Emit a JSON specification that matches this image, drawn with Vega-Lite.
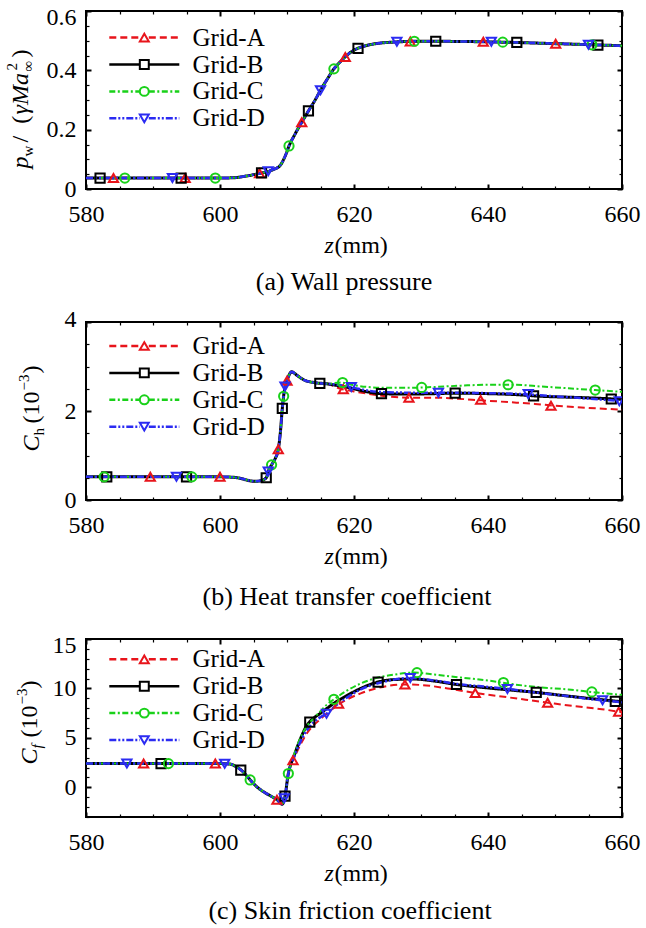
{
  "$schema": "https://vega.github.io/schema/vega-lite/v6.json",
  "background": "white",
  "padding": {"left": 3, "top": 4, "right": 0, "bottom": 0},
  "config": {
    "font": "Liberation Serif",
    "view": {"stroke": "black", "strokeWidth": 2},
    "axis": {"grid": false, "domain": false, "labelFont": "Liberation Serif", "labelFontSize": 24, "labelColor": "black", "tickColor": "black", "titleFont": "Liberation Serif", "titleFontSize": 24, "titleFontWeight": "normal", "titleColor": "black", "titleAlign": "left", "titleBaseline": "alphabetic", "labelFlush": false, "labelOverlap": false, "labelBound": false},
    "legend": {"labelFont": "Liberation Serif", "labelFontSize": 25, "labelColor": "black"},
    "title": {"font": "Liberation Serif", "fontSize": 26, "fontWeight": "normal", "color": "black"}
  },
  "datasets": {
    "lines": [
      {"p":"a","g":"Grid-A","z":580,"v":0.037},{"p":"a","g":"Grid-A","z":600,"v":0.037},{"p":"a","g":"Grid-A","z":602,"v":0.038},{"p":"a","g":"Grid-A","z":604,"v":0.044},{"p":"a","g":"Grid-A","z":606,"v":0.053},{"p":"a","g":"Grid-A","z":607,"v":0.058},{"p":"a","g":"Grid-A","z":608,"v":0.066},{"p":"a","g":"Grid-A","z":609,"v":0.08},{"p":"a","g":"Grid-A","z":609.8,"v":0.115},{"p":"a","g":"Grid-A","z":610.3,"v":0.145},{"p":"a","g":"Grid-A","z":611.2,"v":0.185},{"p":"a","g":"Grid-A","z":612.2,"v":0.225},{"p":"a","g":"Grid-A","z":613.2,"v":0.263},{"p":"a","g":"Grid-A","z":614.2,"v":0.3},{"p":"a","g":"Grid-A","z":615,"v":0.333},{"p":"a","g":"Grid-A","z":616,"v":0.37},{"p":"a","g":"Grid-A","z":617,"v":0.405},{"p":"a","g":"Grid-A","z":618,"v":0.43},{"p":"a","g":"Grid-A","z":619,"v":0.452},{"p":"a","g":"Grid-A","z":620,"v":0.468},{"p":"a","g":"Grid-A","z":621,"v":0.478},{"p":"a","g":"Grid-A","z":622.5,"v":0.487},{"p":"a","g":"Grid-A","z":625,"v":0.494},{"p":"a","g":"Grid-A","z":630,"v":0.498},{"p":"a","g":"Grid-A","z":640,"v":0.496},{"p":"a","g":"Grid-A","z":650,"v":0.49},{"p":"a","g":"Grid-A","z":660,"v":0.483},
      {"p":"a","g":"Grid-B","z":580,"v":0.037},{"p":"a","g":"Grid-B","z":600,"v":0.037},{"p":"a","g":"Grid-B","z":602,"v":0.038},{"p":"a","g":"Grid-B","z":604,"v":0.044},{"p":"a","g":"Grid-B","z":606,"v":0.053},{"p":"a","g":"Grid-B","z":607,"v":0.058},{"p":"a","g":"Grid-B","z":608,"v":0.066},{"p":"a","g":"Grid-B","z":609,"v":0.08},{"p":"a","g":"Grid-B","z":609.8,"v":0.115},{"p":"a","g":"Grid-B","z":610.3,"v":0.145},{"p":"a","g":"Grid-B","z":611.2,"v":0.185},{"p":"a","g":"Grid-B","z":612.2,"v":0.225},{"p":"a","g":"Grid-B","z":613.2,"v":0.263},{"p":"a","g":"Grid-B","z":614.2,"v":0.3},{"p":"a","g":"Grid-B","z":615,"v":0.333},{"p":"a","g":"Grid-B","z":616,"v":0.37},{"p":"a","g":"Grid-B","z":617,"v":0.405},{"p":"a","g":"Grid-B","z":618,"v":0.43},{"p":"a","g":"Grid-B","z":619,"v":0.452},{"p":"a","g":"Grid-B","z":620,"v":0.468},{"p":"a","g":"Grid-B","z":621,"v":0.478},{"p":"a","g":"Grid-B","z":622.5,"v":0.487},{"p":"a","g":"Grid-B","z":625,"v":0.494},{"p":"a","g":"Grid-B","z":630,"v":0.498},{"p":"a","g":"Grid-B","z":640,"v":0.496},{"p":"a","g":"Grid-B","z":650,"v":0.49},{"p":"a","g":"Grid-B","z":660,"v":0.483},
      {"p":"a","g":"Grid-C","z":580,"v":0.037},{"p":"a","g":"Grid-C","z":600,"v":0.037},{"p":"a","g":"Grid-C","z":602,"v":0.038},{"p":"a","g":"Grid-C","z":604,"v":0.044},{"p":"a","g":"Grid-C","z":606,"v":0.053},{"p":"a","g":"Grid-C","z":607,"v":0.058},{"p":"a","g":"Grid-C","z":608,"v":0.066},{"p":"a","g":"Grid-C","z":609,"v":0.08},{"p":"a","g":"Grid-C","z":609.8,"v":0.115},{"p":"a","g":"Grid-C","z":610.3,"v":0.145},{"p":"a","g":"Grid-C","z":611.2,"v":0.185},{"p":"a","g":"Grid-C","z":612.2,"v":0.225},{"p":"a","g":"Grid-C","z":613.2,"v":0.263},{"p":"a","g":"Grid-C","z":614.2,"v":0.3},{"p":"a","g":"Grid-C","z":615,"v":0.333},{"p":"a","g":"Grid-C","z":616,"v":0.37},{"p":"a","g":"Grid-C","z":617,"v":0.405},{"p":"a","g":"Grid-C","z":618,"v":0.43},{"p":"a","g":"Grid-C","z":619,"v":0.452},{"p":"a","g":"Grid-C","z":620,"v":0.468},{"p":"a","g":"Grid-C","z":621,"v":0.478},{"p":"a","g":"Grid-C","z":622.5,"v":0.487},{"p":"a","g":"Grid-C","z":625,"v":0.494},{"p":"a","g":"Grid-C","z":630,"v":0.498},{"p":"a","g":"Grid-C","z":640,"v":0.496},{"p":"a","g":"Grid-C","z":650,"v":0.49},{"p":"a","g":"Grid-C","z":660,"v":0.483},
      {"p":"a","g":"Grid-D","z":580,"v":0.037},{"p":"a","g":"Grid-D","z":600,"v":0.037},{"p":"a","g":"Grid-D","z":602,"v":0.038},{"p":"a","g":"Grid-D","z":604,"v":0.044},{"p":"a","g":"Grid-D","z":606,"v":0.053},{"p":"a","g":"Grid-D","z":607,"v":0.058},{"p":"a","g":"Grid-D","z":608,"v":0.066},{"p":"a","g":"Grid-D","z":609,"v":0.08},{"p":"a","g":"Grid-D","z":609.8,"v":0.115},{"p":"a","g":"Grid-D","z":610.3,"v":0.145},{"p":"a","g":"Grid-D","z":611.2,"v":0.185},{"p":"a","g":"Grid-D","z":612.2,"v":0.225},{"p":"a","g":"Grid-D","z":613.2,"v":0.263},{"p":"a","g":"Grid-D","z":614.2,"v":0.3},{"p":"a","g":"Grid-D","z":615,"v":0.333},{"p":"a","g":"Grid-D","z":616,"v":0.37},{"p":"a","g":"Grid-D","z":617,"v":0.405},{"p":"a","g":"Grid-D","z":618,"v":0.43},{"p":"a","g":"Grid-D","z":619,"v":0.452},{"p":"a","g":"Grid-D","z":620,"v":0.468},{"p":"a","g":"Grid-D","z":621,"v":0.478},{"p":"a","g":"Grid-D","z":622.5,"v":0.487},{"p":"a","g":"Grid-D","z":625,"v":0.494},{"p":"a","g":"Grid-D","z":630,"v":0.498},{"p":"a","g":"Grid-D","z":640,"v":0.496},{"p":"a","g":"Grid-D","z":650,"v":0.49},{"p":"a","g":"Grid-D","z":660,"v":0.483},

      {"p":"b","g":"Grid-A","z":580,"v":0.52},{"p":"b","g":"Grid-A","z":600,"v":0.52},{"p":"b","g":"Grid-A","z":602,"v":0.51},{"p":"b","g":"Grid-A","z":603.5,"v":0.47},{"p":"b","g":"Grid-A","z":604.5,"v":0.43},{"p":"b","g":"Grid-A","z":605.4,"v":0.42},{"p":"b","g":"Grid-A","z":606.2,"v":0.44},{"p":"b","g":"Grid-A","z":606.9,"v":0.5},{"p":"b","g":"Grid-A","z":607.2,"v":0.64},{"p":"b","g":"Grid-A","z":607.7,"v":0.79},{"p":"b","g":"Grid-A","z":608.2,"v":0.92},{"p":"b","g":"Grid-A","z":608.7,"v":1.14},{"p":"b","g":"Grid-A","z":609,"v":1.5},{"p":"b","g":"Grid-A","z":609.3,"v":2.06},{"p":"b","g":"Grid-A","z":609.6,"v":2.45},{"p":"b","g":"Grid-A","z":610,"v":2.68},{"p":"b","g":"Grid-A","z":610.7,"v":2.88},{"p":"b","g":"Grid-A","z":611.5,"v":2.8},{"p":"b","g":"Grid-A","z":612.5,"v":2.7},{"p":"b","g":"Grid-A","z":614,"v":2.64},{"p":"b","g":"Grid-A","z":616,"v":2.61},
      {"p":"b","g":"Grid-A","z":618,"v":2.5},{"p":"b","g":"Grid-A","z":620,"v":2.44},{"p":"b","g":"Grid-A","z":622,"v":2.39},{"p":"b","g":"Grid-A","z":625,"v":2.33},{"p":"b","g":"Grid-A","z":628,"v":2.3},{"p":"b","g":"Grid-A","z":632,"v":2.3},{"p":"b","g":"Grid-A","z":635,"v":2.28},{"p":"b","g":"Grid-A","z":639,"v":2.24},{"p":"b","g":"Grid-A","z":643,"v":2.2},{"p":"b","g":"Grid-A","z":647,"v":2.16},{"p":"b","g":"Grid-A","z":650,"v":2.12},{"p":"b","g":"Grid-A","z":655,"v":2.07},{"p":"b","g":"Grid-A","z":660,"v":2.03},
      {"p":"b","g":"Grid-B","z":580,"v":0.52},{"p":"b","g":"Grid-B","z":600,"v":0.52},{"p":"b","g":"Grid-B","z":602,"v":0.51},{"p":"b","g":"Grid-B","z":603.5,"v":0.47},{"p":"b","g":"Grid-B","z":604.5,"v":0.43},{"p":"b","g":"Grid-B","z":605.4,"v":0.42},{"p":"b","g":"Grid-B","z":606.2,"v":0.44},{"p":"b","g":"Grid-B","z":606.9,"v":0.5},{"p":"b","g":"Grid-B","z":607.2,"v":0.64},{"p":"b","g":"Grid-B","z":607.7,"v":0.79},{"p":"b","g":"Grid-B","z":608.2,"v":0.92},{"p":"b","g":"Grid-B","z":608.7,"v":1.14},{"p":"b","g":"Grid-B","z":609,"v":1.5},{"p":"b","g":"Grid-B","z":609.3,"v":2.06},{"p":"b","g":"Grid-B","z":609.6,"v":2.45},{"p":"b","g":"Grid-B","z":610,"v":2.68},{"p":"b","g":"Grid-B","z":610.7,"v":2.88},{"p":"b","g":"Grid-B","z":611.5,"v":2.8},{"p":"b","g":"Grid-B","z":612.5,"v":2.7},{"p":"b","g":"Grid-B","z":614,"v":2.64},{"p":"b","g":"Grid-B","z":616,"v":2.61},
      {"p":"b","g":"Grid-B","z":618,"v":2.56},{"p":"b","g":"Grid-B","z":620,"v":2.5},{"p":"b","g":"Grid-B","z":622,"v":2.43},{"p":"b","g":"Grid-B","z":624,"v":2.39},{"p":"b","g":"Grid-B","z":628,"v":2.38},{"p":"b","g":"Grid-B","z":632,"v":2.39},{"p":"b","g":"Grid-B","z":635,"v":2.4},{"p":"b","g":"Grid-B","z":640,"v":2.39},{"p":"b","g":"Grid-B","z":644,"v":2.37},{"p":"b","g":"Grid-B","z":648,"v":2.33},{"p":"b","g":"Grid-B","z":652,"v":2.31},{"p":"b","g":"Grid-B","z":656,"v":2.29},{"p":"b","g":"Grid-B","z":660,"v":2.26},
      {"p":"b","g":"Grid-C","z":580,"v":0.52},{"p":"b","g":"Grid-C","z":600,"v":0.52},{"p":"b","g":"Grid-C","z":602,"v":0.51},{"p":"b","g":"Grid-C","z":603.5,"v":0.47},{"p":"b","g":"Grid-C","z":604.5,"v":0.43},{"p":"b","g":"Grid-C","z":605.4,"v":0.42},{"p":"b","g":"Grid-C","z":606.2,"v":0.44},{"p":"b","g":"Grid-C","z":606.9,"v":0.5},{"p":"b","g":"Grid-C","z":607.2,"v":0.64},{"p":"b","g":"Grid-C","z":607.7,"v":0.79},{"p":"b","g":"Grid-C","z":608.2,"v":0.92},{"p":"b","g":"Grid-C","z":608.7,"v":1.14},{"p":"b","g":"Grid-C","z":609,"v":1.5},{"p":"b","g":"Grid-C","z":609.3,"v":2.06},{"p":"b","g":"Grid-C","z":609.6,"v":2.45},{"p":"b","g":"Grid-C","z":610,"v":2.68},{"p":"b","g":"Grid-C","z":610.7,"v":2.88},{"p":"b","g":"Grid-C","z":611.5,"v":2.8},{"p":"b","g":"Grid-C","z":612.5,"v":2.7},{"p":"b","g":"Grid-C","z":614,"v":2.64},{"p":"b","g":"Grid-C","z":616,"v":2.61},
      {"p":"b","g":"Grid-C","z":618,"v":2.64},{"p":"b","g":"Grid-C","z":620,"v":2.58},{"p":"b","g":"Grid-C","z":622,"v":2.54},{"p":"b","g":"Grid-C","z":625,"v":2.52},{"p":"b","g":"Grid-C","z":628,"v":2.52},{"p":"b","g":"Grid-C","z":632,"v":2.54},{"p":"b","g":"Grid-C","z":636,"v":2.57},{"p":"b","g":"Grid-C","z":640,"v":2.59},{"p":"b","g":"Grid-C","z":644,"v":2.59},{"p":"b","g":"Grid-C","z":648,"v":2.55},{"p":"b","g":"Grid-C","z":652,"v":2.51},{"p":"b","g":"Grid-C","z":656,"v":2.47},{"p":"b","g":"Grid-C","z":660,"v":2.43},
      {"p":"b","g":"Grid-D","z":580,"v":0.52},{"p":"b","g":"Grid-D","z":600,"v":0.52},{"p":"b","g":"Grid-D","z":602,"v":0.51},{"p":"b","g":"Grid-D","z":603.5,"v":0.47},{"p":"b","g":"Grid-D","z":604.5,"v":0.43},{"p":"b","g":"Grid-D","z":605.4,"v":0.42},{"p":"b","g":"Grid-D","z":606.2,"v":0.44},{"p":"b","g":"Grid-D","z":606.9,"v":0.5},{"p":"b","g":"Grid-D","z":607.2,"v":0.64},{"p":"b","g":"Grid-D","z":607.7,"v":0.79},{"p":"b","g":"Grid-D","z":608.2,"v":0.92},{"p":"b","g":"Grid-D","z":608.7,"v":1.14},{"p":"b","g":"Grid-D","z":609,"v":1.5},{"p":"b","g":"Grid-D","z":609.3,"v":2.06},{"p":"b","g":"Grid-D","z":609.6,"v":2.45},{"p":"b","g":"Grid-D","z":610,"v":2.68},{"p":"b","g":"Grid-D","z":610.7,"v":2.88},{"p":"b","g":"Grid-D","z":611.5,"v":2.8},{"p":"b","g":"Grid-D","z":612.5,"v":2.7},{"p":"b","g":"Grid-D","z":614,"v":2.64},{"p":"b","g":"Grid-D","z":616,"v":2.61},
      {"p":"b","g":"Grid-D","z":618,"v":2.58},{"p":"b","g":"Grid-D","z":620,"v":2.52},{"p":"b","g":"Grid-D","z":622,"v":2.46},{"p":"b","g":"Grid-D","z":625,"v":2.42},{"p":"b","g":"Grid-D","z":630,"v":2.41},{"p":"b","g":"Grid-D","z":635,"v":2.41},{"p":"b","g":"Grid-D","z":640,"v":2.4},{"p":"b","g":"Grid-D","z":645,"v":2.38},{"p":"b","g":"Grid-D","z":650,"v":2.33},{"p":"b","g":"Grid-D","z":655,"v":2.28},{"p":"b","g":"Grid-D","z":660,"v":2.22},

      {"p":"c","g":"Grid-A","z":580,"v":2.4},{"p":"c","g":"Grid-A","z":600,"v":2.4},{"p":"c","g":"Grid-A","z":601.5,"v":2.35},{"p":"c","g":"Grid-A","z":602.5,"v":2.05},{"p":"c","g":"Grid-A","z":603.2,"v":1.72},{"p":"c","g":"Grid-A","z":604,"v":1.15},{"p":"c","g":"Grid-A","z":604.7,"v":0.6},{"p":"c","g":"Grid-A","z":605.5,"v":0.05},{"p":"c","g":"Grid-A","z":606.5,"v":-0.45},{"p":"c","g":"Grid-A","z":607.5,"v":-0.85},{"p":"c","g":"Grid-A","z":608.5,"v":-1.25},{"p":"c","g":"Grid-A","z":609.3,"v":-1.7},{"p":"c","g":"Grid-A","z":609.7,"v":-0.9},{"p":"c","g":"Grid-A","z":610.2,"v":1.4},{"p":"c","g":"Grid-A","z":610.6,"v":2.4},
      {"p":"c","g":"Grid-A","z":611,"v":2.9},{"p":"c","g":"Grid-A","z":612,"v":4.3},{"p":"c","g":"Grid-A","z":613,"v":5.5},{"p":"c","g":"Grid-A","z":614,"v":6.3},{"p":"c","g":"Grid-A","z":615,"v":6.9},{"p":"c","g":"Grid-A","z":616,"v":7.5},{"p":"c","g":"Grid-A","z":617,"v":8.05},{"p":"c","g":"Grid-A","z":619,"v":8.9},{"p":"c","g":"Grid-A","z":621,"v":9.5},{"p":"c","g":"Grid-A","z":623,"v":9.95},{"p":"c","g":"Grid-A","z":625,"v":10.25},{"p":"c","g":"Grid-A","z":627.6,"v":10.4},{"p":"c","g":"Grid-A","z":630,"v":10.35},{"p":"c","g":"Grid-A","z":634,"v":10.0},{"p":"c","g":"Grid-A","z":638,"v":9.55},{"p":"c","g":"Grid-A","z":643,"v":9.1},{"p":"c","g":"Grid-A","z":649,"v":8.55},{"p":"c","g":"Grid-A","z":653,"v":8.2},{"p":"c","g":"Grid-A","z":657,"v":7.9},{"p":"c","g":"Grid-A","z":660,"v":7.6},
      {"p":"c","g":"Grid-B","z":580,"v":2.4},{"p":"c","g":"Grid-B","z":600,"v":2.4},{"p":"c","g":"Grid-B","z":601.5,"v":2.35},{"p":"c","g":"Grid-B","z":602.5,"v":2.05},{"p":"c","g":"Grid-B","z":603.2,"v":1.72},{"p":"c","g":"Grid-B","z":604,"v":1.15},{"p":"c","g":"Grid-B","z":604.7,"v":0.6},{"p":"c","g":"Grid-B","z":605.5,"v":0.05},{"p":"c","g":"Grid-B","z":606.5,"v":-0.45},{"p":"c","g":"Grid-B","z":607.5,"v":-0.85},{"p":"c","g":"Grid-B","z":608.5,"v":-1.25},{"p":"c","g":"Grid-B","z":609.3,"v":-1.7},{"p":"c","g":"Grid-B","z":609.7,"v":-0.9},{"p":"c","g":"Grid-B","z":610.2,"v":1.4},{"p":"c","g":"Grid-B","z":610.6,"v":2.4},
      {"p":"c","g":"Grid-B","z":611,"v":3.1},{"p":"c","g":"Grid-B","z":612,"v":4.9},{"p":"c","g":"Grid-B","z":613,"v":6.3},{"p":"c","g":"Grid-B","z":614,"v":7.0},{"p":"c","g":"Grid-B","z":615,"v":7.5},{"p":"c","g":"Grid-B","z":616,"v":8.0},{"p":"c","g":"Grid-B","z":617,"v":8.5},{"p":"c","g":"Grid-B","z":619,"v":9.3},{"p":"c","g":"Grid-B","z":621,"v":10.0},{"p":"c","g":"Grid-B","z":623.6,"v":10.65},{"p":"c","g":"Grid-B","z":626,"v":10.9},{"p":"c","g":"Grid-B","z":629,"v":10.95},{"p":"c","g":"Grid-B","z":632,"v":10.75},{"p":"c","g":"Grid-B","z":635.3,"v":10.4},{"p":"c","g":"Grid-B","z":640,"v":10.05},{"p":"c","g":"Grid-B","z":644,"v":9.8},{"p":"c","g":"Grid-B","z":647.2,"v":9.6},{"p":"c","g":"Grid-B","z":651,"v":9.3},{"p":"c","g":"Grid-B","z":655,"v":9.0},{"p":"c","g":"Grid-B","z":660,"v":8.65},
      {"p":"c","g":"Grid-C","z":580,"v":2.4},{"p":"c","g":"Grid-C","z":600,"v":2.4},{"p":"c","g":"Grid-C","z":601.5,"v":2.35},{"p":"c","g":"Grid-C","z":602.5,"v":2.05},{"p":"c","g":"Grid-C","z":603.2,"v":1.72},{"p":"c","g":"Grid-C","z":604,"v":1.15},{"p":"c","g":"Grid-C","z":604.7,"v":0.6},{"p":"c","g":"Grid-C","z":605.5,"v":0.05},{"p":"c","g":"Grid-C","z":606.5,"v":-0.45},{"p":"c","g":"Grid-C","z":607.5,"v":-0.85},{"p":"c","g":"Grid-C","z":608.5,"v":-1.25},{"p":"c","g":"Grid-C","z":609.3,"v":-1.7},{"p":"c","g":"Grid-C","z":609.7,"v":-0.9},{"p":"c","g":"Grid-C","z":610.2,"v":1.4},{"p":"c","g":"Grid-C","z":610.6,"v":2.4},
      {"p":"c","g":"Grid-C","z":611,"v":3.2},{"p":"c","g":"Grid-C","z":612,"v":5.0},{"p":"c","g":"Grid-C","z":613,"v":6.2},{"p":"c","g":"Grid-C","z":614,"v":7.0},{"p":"c","g":"Grid-C","z":615,"v":7.7},{"p":"c","g":"Grid-C","z":616,"v":8.4},{"p":"c","g":"Grid-C","z":617,"v":8.9},{"p":"c","g":"Grid-C","z":619,"v":9.8},{"p":"c","g":"Grid-C","z":621,"v":10.5},{"p":"c","g":"Grid-C","z":623,"v":11.0},{"p":"c","g":"Grid-C","z":626,"v":11.4},{"p":"c","g":"Grid-C","z":629,"v":11.6},{"p":"c","g":"Grid-C","z":632,"v":11.4},{"p":"c","g":"Grid-C","z":636,"v":11.1},{"p":"c","g":"Grid-C","z":640,"v":10.8},{"p":"c","g":"Grid-C","z":644,"v":10.4},{"p":"c","g":"Grid-C","z":648,"v":10.1},{"p":"c","g":"Grid-C","z":652,"v":9.9},{"p":"c","g":"Grid-C","z":656,"v":9.6},{"p":"c","g":"Grid-C","z":660,"v":9.35},
      {"p":"c","g":"Grid-D","z":580,"v":2.4},{"p":"c","g":"Grid-D","z":600,"v":2.4},{"p":"c","g":"Grid-D","z":601.5,"v":2.35},{"p":"c","g":"Grid-D","z":602.5,"v":2.05},{"p":"c","g":"Grid-D","z":603.2,"v":1.72},{"p":"c","g":"Grid-D","z":604,"v":1.15},{"p":"c","g":"Grid-D","z":604.7,"v":0.6},{"p":"c","g":"Grid-D","z":605.5,"v":0.05},{"p":"c","g":"Grid-D","z":606.5,"v":-0.45},{"p":"c","g":"Grid-D","z":607.5,"v":-0.85},{"p":"c","g":"Grid-D","z":608.5,"v":-1.25},{"p":"c","g":"Grid-D","z":609.3,"v":-1.7},{"p":"c","g":"Grid-D","z":609.7,"v":-0.9},{"p":"c","g":"Grid-D","z":610.2,"v":1.4},{"p":"c","g":"Grid-D","z":610.6,"v":2.4},
      {"p":"c","g":"Grid-D","z":611,"v":3.0},{"p":"c","g":"Grid-D","z":612,"v":4.6},{"p":"c","g":"Grid-D","z":613,"v":5.8},{"p":"c","g":"Grid-D","z":614,"v":6.6},{"p":"c","g":"Grid-D","z":615,"v":7.1},{"p":"c","g":"Grid-D","z":616,"v":7.5},{"p":"c","g":"Grid-D","z":617,"v":8.1},{"p":"c","g":"Grid-D","z":619,"v":9.1},{"p":"c","g":"Grid-D","z":621,"v":9.9},{"p":"c","g":"Grid-D","z":624,"v":10.6},{"p":"c","g":"Grid-D","z":626,"v":10.9},{"p":"c","g":"Grid-D","z":628.4,"v":11.05},{"p":"c","g":"Grid-D","z":632,"v":10.8},{"p":"c","g":"Grid-D","z":636,"v":10.4},{"p":"c","g":"Grid-D","z":640,"v":10.15},{"p":"c","g":"Grid-D","z":643,"v":9.95},{"p":"c","g":"Grid-D","z":647,"v":9.6},{"p":"c","g":"Grid-D","z":651,"v":9.3},{"p":"c","g":"Grid-D","z":655,"v":8.95},{"p":"c","g":"Grid-D","z":657.1,"v":8.8},{"p":"c","g":"Grid-D","z":660,"v":8.6}
    ],
    "markers": [
      {"p":"a","g":"Grid-A","z":584.1,"v":0.037},{"p":"a","g":"Grid-A","z":594.8,"v":0.037},{"p":"a","g":"Grid-A","z":605.9,"v":0.053},{"p":"a","g":"Grid-A","z":612.2,"v":0.225},{"p":"a","g":"Grid-A","z":618.7,"v":0.445},{"p":"a","g":"Grid-A","z":628.4,"v":0.497},{"p":"a","g":"Grid-A","z":639.3,"v":0.496},{"p":"a","g":"Grid-A","z":650.1,"v":0.49},
      {"p":"a","g":"Grid-B","z":582.1,"v":0.037},{"p":"a","g":"Grid-B","z":594.2,"v":0.037},{"p":"a","g":"Grid-B","z":606.2,"v":0.054},{"p":"a","g":"Grid-B","z":613.2,"v":0.263},{"p":"a","g":"Grid-B","z":620.6,"v":0.474},{"p":"a","g":"Grid-B","z":632.2,"v":0.498},{"p":"a","g":"Grid-B","z":644.3,"v":0.494},{"p":"a","g":"Grid-B","z":656.4,"v":0.485},
      {"p":"a","g":"Grid-C","z":585.8,"v":0.037},{"p":"a","g":"Grid-C","z":599.3,"v":0.037},{"p":"a","g":"Grid-C","z":610.3,"v":0.145},{"p":"a","g":"Grid-C","z":617,"v":0.405},{"p":"a","g":"Grid-C","z":629,"v":0.498},{"p":"a","g":"Grid-C","z":642.2,"v":0.495},{"p":"a","g":"Grid-C","z":655.5,"v":0.486},
      {"p":"a","g":"Grid-D","z":592.9,"v":0.037},{"p":"a","g":"Grid-D","z":607.2,"v":0.06},{"p":"a","g":"Grid-D","z":615,"v":0.333},{"p":"a","g":"Grid-D","z":626.4,"v":0.496},{"p":"a","g":"Grid-D","z":640.5,"v":0.496},{"p":"a","g":"Grid-D","z":655,"v":0.486},
      {"p":"b","g":"Grid-A","z":589.6,"v":0.52},{"p":"b","g":"Grid-A","z":600,"v":0.52},{"p":"b","g":"Grid-A","z":608.7,"v":1.14},{"p":"b","g":"Grid-A","z":610,"v":2.68},{"p":"b","g":"Grid-A","z":618.4,"v":2.49},{"p":"b","g":"Grid-A","z":628.2,"v":2.3},{"p":"b","g":"Grid-A","z":638.9,"v":2.25},{"p":"b","g":"Grid-A","z":649.4,"v":2.12},
      {"p":"b","g":"Grid-B","z":583.1,"v":0.52},{"p":"b","g":"Grid-B","z":595,"v":0.52},{"p":"b","g":"Grid-B","z":606.9,"v":0.5},{"p":"b","g":"Grid-B","z":609.3,"v":2.06},{"p":"b","g":"Grid-B","z":614.9,"v":2.62},{"p":"b","g":"Grid-B","z":624.1,"v":2.39},{"p":"b","g":"Grid-B","z":635.1,"v":2.4},{"p":"b","g":"Grid-B","z":646.8,"v":2.34},{"p":"b","g":"Grid-B","z":658.4,"v":2.27},
      {"p":"b","g":"Grid-C","z":582.7,"v":0.52},{"p":"b","g":"Grid-C","z":595.8,"v":0.52},{"p":"b","g":"Grid-C","z":607.7,"v":0.79},{"p":"b","g":"Grid-C","z":609.5,"v":2.33},{"p":"b","g":"Grid-C","z":618.3,"v":2.64},{"p":"b","g":"Grid-C","z":630.1,"v":2.53},{"p":"b","g":"Grid-C","z":643,"v":2.59},{"p":"b","g":"Grid-C","z":656,"v":2.47},
      {"p":"b","g":"Grid-D","z":593.5,"v":0.52},{"p":"b","g":"Grid-D","z":607.2,"v":0.64},{"p":"b","g":"Grid-D","z":609.7,"v":2.55},{"p":"b","g":"Grid-D","z":619.6,"v":2.54},{"p":"b","g":"Grid-D","z":632.6,"v":2.41},{"p":"b","g":"Grid-D","z":646,"v":2.38},{"p":"b","g":"Grid-D","z":659.6,"v":2.22},
      {"p":"c","g":"Grid-A","z":588.6,"v":2.4},{"p":"c","g":"Grid-A","z":599.3,"v":2.4},{"p":"c","g":"Grid-A","z":608.5,"v":-1.25},{"p":"c","g":"Grid-A","z":610.9,"v":2.75},{"p":"c","g":"Grid-A","z":617.7,"v":8.45},{"p":"c","g":"Grid-A","z":627.6,"v":10.4},{"p":"c","g":"Grid-A","z":638.1,"v":9.55},{"p":"c","g":"Grid-A","z":648.9,"v":8.55},{"p":"c","g":"Grid-A","z":659.5,"v":7.65},
      {"p":"c","g":"Grid-B","z":591.2,"v":2.4},{"p":"c","g":"Grid-B","z":603.1,"v":1.75},{"p":"c","g":"Grid-B","z":609.7,"v":-0.9},{"p":"c","g":"Grid-B","z":613.4,"v":6.6},{"p":"c","g":"Grid-B","z":623.6,"v":10.65},{"p":"c","g":"Grid-B","z":635.3,"v":10.4},{"p":"c","g":"Grid-B","z":647.2,"v":9.6},{"p":"c","g":"Grid-B","z":659,"v":8.7},
      {"p":"c","g":"Grid-C","z":592.3,"v":2.4},{"p":"c","g":"Grid-C","z":604.5,"v":0.75},{"p":"c","g":"Grid-C","z":610.2,"v":1.4},{"p":"c","g":"Grid-C","z":617,"v":8.9},{"p":"c","g":"Grid-C","z":629.4,"v":11.6},{"p":"c","g":"Grid-C","z":642.3,"v":10.6},{"p":"c","g":"Grid-C","z":655.5,"v":9.65},
      {"p":"c","g":"Grid-D","z":586.1,"v":2.4},{"p":"c","g":"Grid-D","z":600.7,"v":2.38},{"p":"c","g":"Grid-D","z":609.6,"v":-1.1},{"p":"c","g":"Grid-D","z":615.9,"v":7.45},{"p":"c","g":"Grid-D","z":628.4,"v":11.05},{"p":"c","g":"Grid-D","z":642.9,"v":9.95},{"p":"c","g":"Grid-D","z":657.1,"v":8.8}
    ]
  },
  "bounds": "flush",
  "spacing": 133,
  "resolve": {
    "scale": {"stroke": "independent", "strokeDash": "independent", "color": "independent", "shape": "independent"},
    "legend": {"stroke": "independent", "strokeDash": "independent", "color": "independent", "shape": "independent"}
  },
  "vconcat": [
    {
      "width": 536, "height": 178,
      "title": {"text": "(a) Wall pressure", "orient": "bottom", "frame": "group", "anchor": "middle", "offset": 33, "baseline": "alphabetic", "dx": -10},
      "resolve": {"axis": {"x": "independent", "y": "independent"}},
      "layer": [
        {
          "data": {"name": "lines"},
          "transform": [{"filter": "datum.p === 'a' && datum.g === 'Grid-A'"}],
          "mark": {"type": "line", "interpolate": "monotone", "strokeWidth": 2, "clip": true},
          "encoding": {
            "x": {"field": "z", "type": "quantitative", "scale": {"domain": [580, 660], "nice": false, "zero": false},
              "axis": {"orient": "bottom", "values": [580,585,590,595,600,605,610,615,620,625,630,635,640,645,650,655,660], "labelExpr": "datum.value % 20 === 0 ? format(datum.value, 'd') : ''", "tickSize": {"condition": {"test": "datum.value % 20 === 0", "value": -5}, "value": -3}, "tickWidth": {"condition": {"test": "datum.value % 20 === 0", "value": 2}, "value": 1.2}, "labelPadding": 18, "title": "z", "titleFontStyle": "italic", "titleX": 238, "titleY": 63, "titleAngle": 0}},
            "y": {"field": "v", "type": "quantitative", "scale": {"domain": [0, 0.6], "nice": false, "zero": false},
              "axis": {"orient": "left", "values": [0,0.05,0.1,0.15,0.2,0.25,0.3,0.35,0.4,0.45,0.5,0.55,0.6], "labelExpr": "abs(datum.value * 5 - round(datum.value * 5)) < 0.001 ? format(datum.value, '~g') : ''", "tickSize": {"condition": {"test": "abs(datum.value * 5 - round(datum.value * 5)) < 0.001", "value": -5}, "value": -3}, "tickWidth": {"condition": {"test": "abs(datum.value * 5 - round(datum.value * 5)) < 0.001", "value": 2}, "value": 1.2}, "labelPadding": 15, "labelOffset": {"condition": {"test": "datum.value > 0.59", "value": 6}, "value": 0}, "title": "p", "titleFontStyle": "italic", "titleX": -59, "titleY": 157, "titleAngle": 270}},
            "stroke": {"field": "g", "type": "nominal", "scale": {"domain": ["Grid-A", "Grid-B", "Grid-C", "Grid-D"], "range": ["#e8141b", "#000000", "#19d119", "#2b2bf2"]},
              "legend": {"orient": "none", "legendX": 0, "legendY": 14.1, "title": null, "padding": 0, "symbolType": "M-3.5,0H-0.45M0.45,0H3.5", "symbolSize": 400, "symbolStrokeWidth": 2.5, "symbolOffset": 45.8, "labelOffset": 35.7, "rowPadding": 0.9}},
            "strokeDash": {"field": "g", "type": "nominal", "scale": {"domain": ["Grid-A", "Grid-B", "Grid-C", "Grid-D"], "range": [[7, 4], [1, 0], [6, 2.5, 2, 2.5], [7, 2, 2, 2, 2, 2]]}, "legend": {"title": null}}
          }
        },
        {
          "data": {"name": "lines"},
          "transform": [{"filter": "datum.p === 'a' && datum.g === 'Grid-B'"}],
          "mark": {"type": "line", "interpolate": "monotone", "strokeWidth": 3, "clip": true},
          "encoding": {
            "x": {"field": "z", "type": "quantitative", "axis": {"orient": "bottom", "ticks": false, "labels": false, "title": "(mm)", "titleX": 248, "titleY": 63, "titleAngle": 0}},
            "y": {"field": "v", "type": "quantitative", "axis": {"orient": "left", "ticks": false, "labels": false, "title": "w", "titleFontSize": 15, "titleX": -54, "titleY": 145, "titleAngle": 270}},
            "stroke": {"field": "g", "type": "nominal"},
            "strokeDash": {"field": "g", "type": "nominal"}
          }
        },
        {
          "data": {"name": "lines"},
          "transform": [{"filter": "datum.p === 'a' && datum.g === 'Grid-C'"}],
          "mark": {"type": "line", "interpolate": "monotone", "strokeWidth": 2, "clip": true},
          "encoding": {
            "x": {"field": "z", "type": "quantitative", "axis": {"orient": "top", "values": [580,585,590,595,600,605,610,615,620,625,630,635,640,645,650,655,660], "labels": false, "tickSize": {"condition": {"test": "datum.value % 20 === 0", "value": -5}, "value": -3}, "tickWidth": {"condition": {"test": "datum.value % 20 === 0", "value": 2}, "value": 1.2}, "title": ")", "titleX": -59, "titleY": 46, "titleAngle": 270}},
            "y": {"field": "v", "type": "quantitative", "axis": {"orient": "right", "values": [0,0.05,0.1,0.15,0.2,0.25,0.3,0.35,0.4,0.45,0.5,0.55,0.6], "labels": false, "tickSize": {"condition": {"test": "abs(datum.value * 5 - round(datum.value * 5)) < 0.001", "value": -5}, "value": -3}, "tickWidth": {"condition": {"test": "abs(datum.value * 5 - round(datum.value * 5)) < 0.001", "value": 2}, "value": 1.2}, "title": null}},
            "stroke": {"field": "g", "type": "nominal"},
            "strokeDash": {"field": "g", "type": "nominal"}
          }
        },
        {
          "data": {"name": "lines"},
          "transform": [{"filter": "datum.p === 'a' && datum.g === 'Grid-D'"}],
          "mark": {"type": "line", "interpolate": "monotone", "strokeWidth": 2.5, "clip": true},
          "encoding": {
            "x": {"field": "z", "type": "quantitative", "axis": null},
            "y": {"field": "v", "type": "quantitative", "axis": {"orient": "left", "ticks": false, "labels": false, "title": "/\u2002(", "titleX": -59, "titleY": 131, "titleAngle": 270}},
            "stroke": {"field": "g", "type": "nominal"},
            "strokeDash": {"field": "g", "type": "nominal"}
          }
        },
        {
          "data": {"name": "markers"},
          "transform": [{"filter": "datum.p === 'a' && datum.g === 'Grid-A'"}],
          "mark": {"type": "point", "filled": false, "size": 85, "strokeWidth": 2, "opacity": 1, "clip": true},
          "encoding": {
            "x": {"field": "z", "type": "quantitative", "axis": null},
            "y": {"field": "v", "type": "quantitative", "axis": {"orient": "left", "ticks": false, "labels": false, "title": "γMa", "titleFontStyle": "italic", "titleX": -59, "titleY": 103, "titleAngle": 270}},
            "color": {"field": "g", "type": "nominal", "scale": {"range": ["#e8141b", "#000000", "#19d119", "#2b2bf2"]},
              "legend": {"orient": "none", "legendX": 0, "legendY": 14.1, "title": null, "padding": 0, "symbolSize": 80, "symbolStrokeWidth": 2, "symbolOffset": 45.8, "labelOffset": 35.7, "labelOpacity": 0, "rowPadding": 0.9, "encode": {"symbols": {"update": {"fill": {"value": "white"}}}}}},
            "shape": {"field": "g", "type": "nominal", "scale": {"range": ["triangle-up", "square", "circle", "triangle-down"]}, "legend": {"title": null}}
          }
        },
        {
          "data": {"name": "markers"},
          "transform": [{"filter": "datum.p === 'a' && datum.g === 'Grid-B'"}],
          "mark": {"type": "point", "filled": false, "size": 85, "strokeWidth": 2, "opacity": 1, "clip": true},
          "encoding": {
            "x": {"field": "z", "type": "quantitative", "axis": null},
            "y": {"field": "v", "type": "quantitative", "axis": {"orient": "left", "ticks": false, "labels": false, "title": "∞", "titleFontSize": 15, "titleX": -54, "titleY": 60, "titleAngle": 270}},
            "color": {"field": "g", "type": "nominal"},
            "shape": {"field": "g", "type": "nominal"}
          }
        },
        {
          "data": {"name": "markers"},
          "transform": [{"filter": "datum.p === 'a' && datum.g === 'Grid-C'"}],
          "mark": {"type": "point", "filled": false, "size": 85, "strokeWidth": 2, "opacity": 1, "clip": true},
          "encoding": {
            "x": {"field": "z", "type": "quantitative", "axis": null},
            "y": {"field": "v", "type": "quantitative", "axis": {"orient": "left", "ticks": false, "labels": false, "title": "2", "titleFontSize": 15, "titleX": -70, "titleY": 59, "titleAngle": 270}},
            "color": {"field": "g", "type": "nominal"},
            "shape": {"field": "g", "type": "nominal"}
          }
        },
        {
          "data": {"name": "markers"},
          "transform": [{"filter": "datum.p === 'a' && datum.g === 'Grid-D'"}],
          "mark": {"type": "point", "filled": false, "size": 85, "strokeWidth": 2, "opacity": 1, "clip": true},
          "encoding": {
            "x": {"field": "z", "type": "quantitative", "axis": null},
            "y": {"field": "v", "type": "quantitative", "axis": null},
            "color": {"field": "g", "type": "nominal"},
            "shape": {"field": "g", "type": "nominal"}
          }
        }
      ]
    },
    {
      "bounds": "flush",
      "spacing": 139,
      "resolve": {
        "scale": {"stroke": "independent", "strokeDash": "independent", "color": "independent", "shape": "independent"},
        "legend": {"stroke": "independent", "strokeDash": "independent", "color": "independent", "shape": "independent"}
      },
      "vconcat": [
        {
          "width": 536, "height": 178,
          "title": {"text": "(b) Heat transfer coefficient", "orient": "bottom", "frame": "group", "anchor": "middle", "offset": 37, "baseline": "alphabetic", "dx": -7},
          "resolve": {"axis": {"x": "independent", "y": "independent"}},
          "layer": [
            {
              "data": {"name": "lines"},
              "transform": [{"filter": "datum.p === 'b' && datum.g === 'Grid-A'"}],
              "mark": {"type": "line", "interpolate": "monotone", "strokeWidth": 2, "clip": true},
              "encoding": {
                "x": {"field": "z", "type": "quantitative", "scale": {"domain": [580, 660], "nice": false, "zero": false},
                  "axis": {"orient": "bottom", "values": [580,585,590,595,600,605,610,615,620,625,630,635,640,645,650,655,660], "labelExpr": "datum.value % 20 === 0 ? format(datum.value, 'd') : ''", "tickSize": {"condition": {"test": "datum.value % 20 === 0", "value": -5}, "value": -3}, "tickWidth": {"condition": {"test": "datum.value % 20 === 0", "value": 2}, "value": 1.2}, "labelPadding": 18, "title": "z", "titleFontStyle": "italic", "titleX": 238, "titleY": 63, "titleAngle": 0}},
                "y": {"field": "v", "type": "quantitative", "scale": {"domain": [0, 4], "nice": false, "zero": false},
                  "axis": {"orient": "left", "values": [0,0.5,1,1.5,2,2.5,3,3.5,4], "labelExpr": "datum.value % 2 === 0 ? format(datum.value, 'd') : ''", "tickSize": {"condition": {"test": "datum.value % 2 === 0", "value": -5}, "value": -3}, "tickWidth": {"condition": {"test": "datum.value % 2 === 0", "value": 2}, "value": 1.2}, "labelPadding": 15, "labelOffset": {"condition": {"test": "datum.value > 3.9", "value": -3}, "value": 0}, "title": "C", "titleFontStyle": "italic", "titleX": -48, "titleY": 129, "titleAngle": 270}},
                "stroke": {"field": "g", "type": "nominal", "scale": {"domain": ["Grid-A", "Grid-B", "Grid-C", "Grid-D"], "range": ["#e8141b", "#000000", "#19d119", "#2b2bf2"]},
                  "legend": {"orient": "none", "legendX": 0, "legendY": 11.5, "title": null, "padding": 0, "symbolType": "M-3.5,0H-0.45M0.45,0H3.5", "symbolSize": 400, "symbolStrokeWidth": 2.5, "symbolOffset": 45.8, "labelOffset": 35.7, "rowPadding": 0.9}},
                "strokeDash": {"field": "g", "type": "nominal", "scale": {"domain": ["Grid-A", "Grid-B", "Grid-C", "Grid-D"], "range": [[7, 4], [1, 0], [6, 2.5, 2, 2.5], [7, 2, 2, 2, 2, 2]]}, "legend": {"title": null}}
              }
            },
            {
              "data": {"name": "lines"},
              "transform": [{"filter": "datum.p === 'b' && datum.g === 'Grid-B'"}],
              "mark": {"type": "line", "interpolate": "monotone", "strokeWidth": 3, "clip": true},
              "encoding": {
                "x": {"field": "z", "type": "quantitative", "axis": {"orient": "bottom", "ticks": false, "labels": false, "title": "(mm)", "titleX": 248, "titleY": 63, "titleAngle": 0}},
                "y": {"field": "v", "type": "quantitative", "axis": {"orient": "left", "ticks": false, "labels": false, "title": "h", "titleFontSize": 15, "titleX": -43, "titleY": 113, "titleAngle": 270}},
                "stroke": {"field": "g", "type": "nominal"},
                "strokeDash": {"field": "g", "type": "nominal"}
              }
            },
            {
              "data": {"name": "lines"},
              "transform": [{"filter": "datum.p === 'b' && datum.g === 'Grid-C'"}],
              "mark": {"type": "line", "interpolate": "monotone", "strokeWidth": 2, "clip": true},
              "encoding": {
                "x": {"field": "z", "type": "quantitative", "axis": {"orient": "top", "values": [580,585,590,595,600,605,610,615,620,625,630,635,640,645,650,655,660], "labels": false, "tickSize": {"condition": {"test": "datum.value % 20 === 0", "value": -5}, "value": -3}, "tickWidth": {"condition": {"test": "datum.value % 20 === 0", "value": 2}, "value": 1.2}, "title": ")", "titleX": -48, "titleY": 51, "titleAngle": 270}},
                "y": {"field": "v", "type": "quantitative", "axis": {"orient": "right", "values": [0,0.5,1,1.5,2,2.5,3,3.5,4], "labels": false, "tickSize": {"condition": {"test": "datum.value % 2 === 0", "value": -5}, "value": -3}, "tickWidth": {"condition": {"test": "datum.value % 2 === 0", "value": 2}, "value": 1.2}, "title": null}},
                "stroke": {"field": "g", "type": "nominal"},
                "strokeDash": {"field": "g", "type": "nominal"}
              }
            },
            {
              "data": {"name": "lines"},
              "transform": [{"filter": "datum.p === 'b' && datum.g === 'Grid-D'"}],
              "mark": {"type": "line", "interpolate": "monotone", "strokeWidth": 2.5, "clip": true},
              "encoding": {
                "x": {"field": "z", "type": "quantitative", "axis": null},
                "y": {"field": "v", "type": "quantitative", "axis": {"orient": "left", "ticks": false, "labels": false, "title": "(10", "titleX": -48, "titleY": 101, "titleAngle": 270}},
                "stroke": {"field": "g", "type": "nominal"},
                "strokeDash": {"field": "g", "type": "nominal"}
              }
            },
            {
              "data": {"name": "markers"},
              "transform": [{"filter": "datum.p === 'b' && datum.g === 'Grid-A'"}],
              "mark": {"type": "point", "filled": false, "size": 85, "strokeWidth": 2, "opacity": 1, "clip": true},
              "encoding": {
                "x": {"field": "z", "type": "quantitative", "axis": null},
                "y": {"field": "v", "type": "quantitative", "axis": {"orient": "left", "ticks": false, "labels": false, "title": "−3", "titleFontSize": 15, "titleX": -58, "titleY": 68, "titleAngle": 270}},
                "color": {"field": "g", "type": "nominal", "scale": {"range": ["#e8141b", "#000000", "#19d119", "#2b2bf2"]},
                  "legend": {"orient": "none", "legendX": 0, "legendY": 11.5, "title": null, "padding": 0, "symbolSize": 80, "symbolStrokeWidth": 2, "symbolOffset": 45.8, "labelOffset": 35.7, "labelOpacity": 0, "rowPadding": 0.9, "encode": {"symbols": {"update": {"fill": {"value": "white"}}}}}},
                "shape": {"field": "g", "type": "nominal", "scale": {"range": ["triangle-up", "square", "circle", "triangle-down"]}, "legend": {"title": null}}
              }
            },
            {
              "data": {"name": "markers"},
              "transform": [{"filter": "datum.p === 'b' && datum.g === 'Grid-B'"}],
              "mark": {"type": "point", "filled": false, "size": 85, "strokeWidth": 2, "opacity": 1, "clip": true},
              "encoding": {
                "x": {"field": "z", "type": "quantitative", "axis": null},
                "y": {"field": "v", "type": "quantitative", "axis": null},
                "color": {"field": "g", "type": "nominal"},
                "shape": {"field": "g", "type": "nominal"}
              }
            },
            {
              "data": {"name": "markers"},
              "transform": [{"filter": "datum.p === 'b' && datum.g === 'Grid-C'"}],
              "mark": {"type": "point", "filled": false, "size": 85, "strokeWidth": 2, "opacity": 1, "clip": true},
              "encoding": {
                "x": {"field": "z", "type": "quantitative", "axis": null},
                "y": {"field": "v", "type": "quantitative", "axis": null},
                "color": {"field": "g", "type": "nominal"},
                "shape": {"field": "g", "type": "nominal"}
              }
            },
            {
              "data": {"name": "markers"},
              "transform": [{"filter": "datum.p === 'b' && datum.g === 'Grid-D'"}],
              "mark": {"type": "point", "filled": false, "size": 85, "strokeWidth": 2, "opacity": 1, "clip": true},
              "encoding": {
                "x": {"field": "z", "type": "quantitative", "axis": null},
                "y": {"field": "v", "type": "quantitative", "axis": null},
                "color": {"field": "g", "type": "nominal"},
                "shape": {"field": "g", "type": "nominal"}
              }
            }
          ]
        },
        {
          "width": 536, "height": 178,
          "title": {"text": "(c) Skin friction coefficient", "orient": "bottom", "frame": "group", "anchor": "middle", "offset": 34, "baseline": "alphabetic", "dx": -4},
          "resolve": {"axis": {"x": "independent", "y": "independent"}},
          "layer": [
            {
              "mark": {"type": "rule", "strokeDash": [6, 4], "color": "#666666", "strokeWidth": 1.5},
              "encoding": {"y": {"datum": 0, "type": "quantitative", "axis": null}}
            },
            {
              "data": {"name": "lines"},
              "transform": [{"filter": "datum.p === 'c' && datum.g === 'Grid-A'"}],
              "mark": {"type": "line", "interpolate": "monotone", "strokeWidth": 2, "clip": true},
              "encoding": {
                "x": {"field": "z", "type": "quantitative", "scale": {"domain": [580, 660], "nice": false, "zero": false},
                  "axis": {"orient": "bottom", "values": [580,585,590,595,600,605,610,615,620,625,630,635,640,645,650,655,660], "labelExpr": "datum.value % 20 === 0 ? format(datum.value, 'd') : ''", "tickSize": {"condition": {"test": "datum.value % 20 === 0", "value": -5}, "value": -3}, "tickWidth": {"condition": {"test": "datum.value % 20 === 0", "value": 2}, "value": 1.2}, "labelPadding": 18, "title": "z", "titleFontStyle": "italic", "titleX": 238, "titleY": 63, "titleAngle": 0}},
                "y": {"field": "v", "type": "quantitative", "scale": {"domain": [-3, 15], "nice": false, "zero": false},
                  "axis": {"orient": "left", "values": [-3,-2,-1,0,1,2,3,4,5,6,7,8,9,10,11,12,13,14,15], "labelExpr": "datum.value % 5 === 0 ? format(datum.value, 'd') : ''", "tickSize": {"condition": {"test": "datum.value % 5 === 0", "value": -5}, "value": -3}, "tickWidth": {"condition": {"test": "datum.value % 5 === 0", "value": 2}, "value": 1.2}, "labelPadding": 15, "labelOffset": {"condition": {"test": "datum.value > 14.9", "value": 6}, "value": 0}, "title": "C", "titleFontStyle": "italic", "titleX": -50, "titleY": 125, "titleAngle": 270}},
                "stroke": {"field": "g", "type": "nominal", "scale": {"domain": ["Grid-A", "Grid-B", "Grid-C", "Grid-D"], "range": ["#e8141b", "#000000", "#19d119", "#2b2bf2"]},
                  "legend": {"orient": "none", "legendX": 0, "legendY": 7.8, "title": null, "padding": 0, "symbolType": "M-3.5,0H-0.45M0.45,0H3.5", "symbolSize": 400, "symbolStrokeWidth": 2.5, "symbolOffset": 45.8, "labelOffset": 35.7, "rowPadding": 0.9}},
                "strokeDash": {"field": "g", "type": "nominal", "scale": {"domain": ["Grid-A", "Grid-B", "Grid-C", "Grid-D"], "range": [[7, 4], [1, 0], [6, 2.5, 2, 2.5], [7, 2, 2, 2, 2, 2]]}, "legend": {"title": null}}
              }
            },
            {
              "data": {"name": "lines"},
              "transform": [{"filter": "datum.p === 'c' && datum.g === 'Grid-B'"}],
              "mark": {"type": "line", "interpolate": "monotone", "strokeWidth": 3, "clip": true},
              "encoding": {
                "x": {"field": "z", "type": "quantitative", "axis": {"orient": "bottom", "ticks": false, "labels": false, "title": "(mm)", "titleX": 248, "titleY": 63, "titleAngle": 0}},
                "y": {"field": "v", "type": "quantitative", "axis": {"orient": "left", "ticks": false, "labels": false, "title": "f", "titleFontSize": 15, "titleFontStyle": "italic", "titleX": -45, "titleY": 109, "titleAngle": 270}},
                "stroke": {"field": "g", "type": "nominal"},
                "strokeDash": {"field": "g", "type": "nominal"}
              }
            },
            {
              "data": {"name": "lines"},
              "transform": [{"filter": "datum.p === 'c' && datum.g === 'Grid-C'"}],
              "mark": {"type": "line", "interpolate": "monotone", "strokeWidth": 2, "clip": true},
              "encoding": {
                "x": {"field": "z", "type": "quantitative", "axis": {"orient": "top", "values": [580,585,590,595,600,605,610,615,620,625,630,635,640,645,650,655,660], "labels": false, "tickSize": {"condition": {"test": "datum.value % 20 === 0", "value": -5}, "value": -3}, "tickWidth": {"condition": {"test": "datum.value % 20 === 0", "value": 2}, "value": 1.2}, "title": ")", "titleX": -50, "titleY": 49, "titleAngle": 270}},
                "y": {"field": "v", "type": "quantitative", "axis": {"orient": "right", "values": [-3,-2,-1,0,1,2,3,4,5,6,7,8,9,10,11,12,13,14,15], "labels": false, "tickSize": {"condition": {"test": "datum.value % 5 === 0", "value": -5}, "value": -3}, "tickWidth": {"condition": {"test": "datum.value % 5 === 0", "value": 2}, "value": 1.2}, "title": null}},
                "stroke": {"field": "g", "type": "nominal"},
                "strokeDash": {"field": "g", "type": "nominal"}
              }
            },
            {
              "data": {"name": "lines"},
              "transform": [{"filter": "datum.p === 'c' && datum.g === 'Grid-D'"}],
              "mark": {"type": "line", "interpolate": "monotone", "strokeWidth": 2.5, "clip": true},
              "encoding": {
                "x": {"field": "z", "type": "quantitative", "axis": null},
                "y": {"field": "v", "type": "quantitative", "axis": {"orient": "left", "ticks": false, "labels": false, "title": "(10", "titleX": -50, "titleY": 98, "titleAngle": 270}},
                "stroke": {"field": "g", "type": "nominal"},
                "strokeDash": {"field": "g", "type": "nominal"}
              }
            },
            {
              "data": {"name": "markers"},
              "transform": [{"filter": "datum.p === 'c' && datum.g === 'Grid-A'"}],
              "mark": {"type": "point", "filled": false, "size": 85, "strokeWidth": 2, "opacity": 1, "clip": true},
              "encoding": {
                "x": {"field": "z", "type": "quantitative", "axis": null},
                "y": {"field": "v", "type": "quantitative", "axis": {"orient": "left", "ticks": false, "labels": false, "title": "−3", "titleFontSize": 15, "titleX": -60, "titleY": 65, "titleAngle": 270}},
                "color": {"field": "g", "type": "nominal", "scale": {"range": ["#e8141b", "#000000", "#19d119", "#2b2bf2"]},
                  "legend": {"orient": "none", "legendX": 0, "legendY": 7.8, "title": null, "padding": 0, "symbolSize": 80, "symbolStrokeWidth": 2, "symbolOffset": 45.8, "labelOffset": 35.7, "labelOpacity": 0, "rowPadding": 0.9, "encode": {"symbols": {"update": {"fill": {"value": "white"}}}}}},
                "shape": {"field": "g", "type": "nominal", "scale": {"range": ["triangle-up", "square", "circle", "triangle-down"]}, "legend": {"title": null}}
              }
            },
            {
              "data": {"name": "markers"},
              "transform": [{"filter": "datum.p === 'c' && datum.g === 'Grid-B'"}],
              "mark": {"type": "point", "filled": false, "size": 85, "strokeWidth": 2, "opacity": 1, "clip": true},
              "encoding": {
                "x": {"field": "z", "type": "quantitative", "axis": null},
                "y": {"field": "v", "type": "quantitative", "axis": null},
                "color": {"field": "g", "type": "nominal"},
                "shape": {"field": "g", "type": "nominal"}
              }
            },
            {
              "data": {"name": "markers"},
              "transform": [{"filter": "datum.p === 'c' && datum.g === 'Grid-C'"}],
              "mark": {"type": "point", "filled": false, "size": 85, "strokeWidth": 2, "opacity": 1, "clip": true},
              "encoding": {
                "x": {"field": "z", "type": "quantitative", "axis": null},
                "y": {"field": "v", "type": "quantitative", "axis": null},
                "color": {"field": "g", "type": "nominal"},
                "shape": {"field": "g", "type": "nominal"}
              }
            },
            {
              "data": {"name": "markers"},
              "transform": [{"filter": "datum.p === 'c' && datum.g === 'Grid-D'"}],
              "mark": {"type": "point", "filled": false, "size": 85, "strokeWidth": 2, "opacity": 1, "clip": true},
              "encoding": {
                "x": {"field": "z", "type": "quantitative", "axis": null},
                "y": {"field": "v", "type": "quantitative", "axis": null},
                "color": {"field": "g", "type": "nominal"},
                "shape": {"field": "g", "type": "nominal"}
              }
            }
          ]
        }
      ]
    }
  ]
}
